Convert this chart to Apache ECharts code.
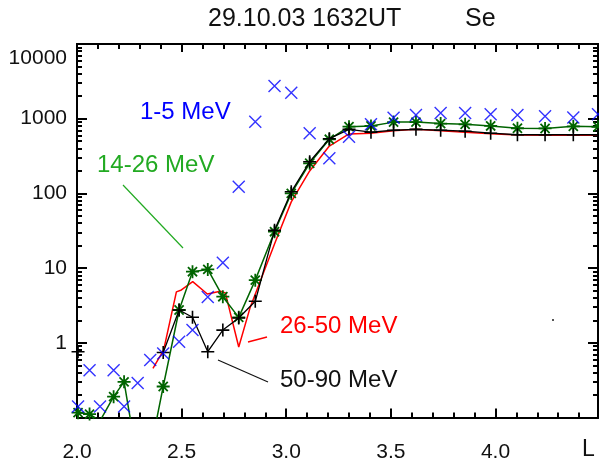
<!DOCTYPE html>
<html><head><meta charset="utf-8">
<script src="https://cdn.jsdelivr.net/npm/echarts@6/dist/echarts.min.js"></script>
<style>html,body{margin:0;padding:0;background:#fff}
#wrap{position:relative;width:599px;height:465px}
#axes,#plot{position:absolute;left:0;top:0;width:599px;height:465px}
#plot{pointer-events:none}</style>
</head><body><div id="wrap"><div id="axes"></div><div id="plot"></div></div>
<script>
// L values shared by 1-5, 14-26 and 50-90 MeV channels
const L = [2.005, 2.06, 2.11, 2.175, 2.225, 2.29, 2.35, 2.412, 2.488, 2.552, 2.625, 2.697, 2.773, 2.852, 2.944, 3.024, 3.112, 3.206, 3.30, 3.405, 3.513, 3.62, 3.738, 3.855, 3.977, 4.105, 4.237, 4.372, 4.49];
const blue1_5 = [0.14, 0.43, 0.14, 0.43, 0.14, 0.29, 0.59, 0.72, 1.03, 1.48, 4.1, 11.8, 123, 912, 2740, 2230, 637, 295, 575, 840, 1030, 1120, 1190, 1190, 1150, 1120, 1080, 1040, 1150];
const green14_26 = [0.116, 0.111, 0.09, 0.19, 0.30, 0.025, 0.035, 0.26, 2.75, 8.95, 9.6, 4.14, 2.19, 6.9, 30.7, 100, 253, 530, 782, 800, 900, 900, 860, 840, 800, 745, 740, 790, 780];
const black50_90 = [0.76, null, null, null, null, null, null, 0.74, 2.75, 2.2, 0.76, 1.48, 2.15, 3.6, 32, 105, 265, 540, 720, 660, 700, 720, 700, 680, 640, 610, 610, 610, 610];
// 26-50 MeV channel
const redL = [2.363, 2.414, 2.475, 2.499, 2.553, 2.623, 2.685, 2.709, 2.773, 2.828, 2.944, 3.024, 3.112, 3.206, 3.30, 3.405, 3.513, 3.62, 3.738, 3.855, 3.977, 4.105, 4.237, 4.372, 4.49];
const red26_50 = [0.455, 0.80, 4.8, 5.1, 6.6, 4.5, 4.9, 4.65, 0.88, 3.0, 21, 77, 200, 430, 625, 640, 690, 720, 690, 660, 630, 605, 600, 600, 600];

// axis ticks and tick labels
const xMajor = [2.0, 2.5, 3.0, 3.5, 4.0];
const xMinor = [2.1, 2.2, 2.3, 2.4, 2.6, 2.7, 2.8, 2.9, 3.1, 3.2, 3.3, 3.4, 3.6, 3.7, 3.8, 3.9, 4.1, 4.2, 4.3, 4.4];
const yLabelText = ['1', '10', '100', '1000', '10000'];
// log10 positions of the y labels (the top label sits a little below the frame, as in the original)
const yLabelPos = [0, 1, 2, 3, 3.812];
const yMinorPos = [];
[-1, 0, 1, 2, 3].forEach(d => [2, 3, 4, 5, 6, 7, 8, 9].forEach(m => yMinorPos.push(d + Math.log10(m))));

const FONT = 'Liberation Sans';
const GRID = {left: 77, top: 44, width: 521, height: 373.5};
const starPath = 'path://M5,0L5,10M0,5L10,5M1.5,1.5L8.5,8.5M8.5,1.5L1.5,8.5';
const plusPath = 'path://M5,0L5,10M0,5L10,5';
const xPath = 'path://M0,0L10,10M10,0L0,10';

// ---------- layer 1: frame, ticks and tick labels ----------
function xAx(pos, ticks, len, w) {
  return {
    type: 'value', min: 2.0, max: 4.49, position: pos,
    axisLine: {show: true, onZero: false, lineStyle: {color: 'black', width: 2}},
    axisTick: {show: true, inside: true, length: len, customValues: ticks, lineStyle: {color: 'black', width: w}},
    axisLabel: {show: false},
    splitLine: {show: false}
  };
}
function yMinorAx(pos) {
  return {
    type: 'value', min: -1, max: 4, position: pos,
    axisLine: {show: false, onZero: false},
    axisTick: {show: true, inside: true, length: 5, customValues: yMinorPos, lineStyle: {color: 'black', width: 2}},
    axisLabel: {show: false}, splitLine: {show: false}
  };
}
function yLogAx(pos) {
  return {
    type: 'log', min: 0.1, max: 10000, position: pos,
    axisLine: {show: true, onZero: false, lineStyle: {color: 'black', width: 2}},
    axisTick: {show: true, inside: true, length: 10, lineStyle: {color: 'black', width: 2}},
    axisLabel: {show: false}, splitLine: {show: false}
  };
}
const axesChart = echarts.init(document.getElementById('axes'));
axesChart.setOption({
  animation: false,
  grid: GRID,
  xAxis: [
    xAx('bottom', xMajor, 9, 2),
    xAx('bottom', xMinor, 5, 2),
    xAx('top', xMajor, 8, 2),
    xAx('top', xMinor, 5, 2),
    {type: 'value', min: 2.0, max: 4.49, position: 'bottom',
     axisLine: {show: false, onZero: false}, axisTick: {show: false}, splitLine: {show: false},
     axisLabel: {show: true, customValues: xMajor, formatter: v => Number(v).toFixed(1),
                 fontSize: 21, fontFamily: FONT, color: '#111', margin: 24}}
  ],
  yAxis: [
    yLogAx('left'),
    yMinorAx('left'),
    yLogAx('right'),
    yMinorAx('right'),
    {type: 'value', min: -1, max: 4, position: 'left',
     axisLine: {show: false, onZero: false}, axisTick: {show: false}, splitLine: {show: false},
     axisLabel: {show: true, customValues: yLabelPos,
                 formatter: v => { const i = yLabelPos.indexOf(Number(v)); return i >= 0 ? yLabelText[i] : ''; },
                 fontSize: 21, fontFamily: FONT, color: '#111', margin: 10}}
  ],
  series: [{type: 'line', data: [], xAxisIndex: 0, yAxisIndex: 0}]
});

// ---------- layer 2: data, title and annotations ----------
const plotChart = echarts.init(document.getElementById('plot'));
plotChart.setOption({
  animation: false,
  backgroundColor: 'transparent',
  title: [
    {text: '29.10.03 1632UT', left: 208, top: 7, padding: 0, textStyle: {fontSize: 25, fontWeight: 'normal', color: '#111', fontFamily: FONT}},
    {text: 'Se', left: 465, top: 7, padding: 0, textStyle: {fontSize: 25, fontWeight: 'normal', color: '#111', fontFamily: FONT}}
  ],
  grid: GRID,
  xAxis: {type: 'value', min: 2.0, max: 4.49, show: false},
  yAxis: {type: 'log', min: 0.1, max: 10000, show: false},
  series: [
    {type: 'line', silent: true, z: 2,
     data: redL.map((x, i) => [x, red26_50[i]]), symbol: 'none',
     lineStyle: {color: '#ff0000', width: 1.5}},
    {type: 'line', silent: true, z: 3, showAllSymbol: true,
     data: L.map((x, i) => [x, green14_26[i]]), symbol: starPath, symbolSize: 13,
     itemStyle: {color: 'rgba(0,0,0,0)', borderColor: '#006400', borderWidth: 1.8},
     lineStyle: {color: '#006400', width: 1.5}},
    {type: 'line', silent: true, z: 4, showAllSymbol: true, connectNulls: false,
     data: L.map((x, i) => [x, black50_90[i]]), symbol: plusPath, symbolSize: 13,
     itemStyle: {color: 'rgba(0,0,0,0)', borderColor: '#000', borderWidth: 1.6},
     lineStyle: {color: '#000', width: 1.3}},
    {type: 'scatter', silent: true, z: 5,
     data: L.map((x, i) => [x, blue1_5[i]]), symbol: xPath, symbolSize: 12,
     itemStyle: {color: 'rgba(0,0,0,0)', borderColor: '#0000ff', borderWidth: 1.4}}
  ],
  graphic: [
    {type: 'text', left: 140, top: 100, style: {text: '1-5 MeV', fill: '#0000ff', font: '24px "Liberation Sans"'}},
    {type: 'text', left: 97, top: 153, style: {text: '14-26 MeV', fill: '#22aa22', font: '24px "Liberation Sans"'}},
    {type: 'text', left: 280, top: 314, style: {text: '26-50 MeV', fill: '#ff0000', font: '24px "Liberation Sans"'}},
    {type: 'text', left: 280, top: 368, style: {text: '50-90 MeV', fill: '#111', font: '24px "Liberation Sans"'}},
    {type: 'text', left: 582, top: 438, style: {text: 'L', fill: '#111', font: '23px "Liberation Sans"'}},
    {type: 'line', shape: {x1: 123, y1: 185, x2: 183, y2: 248}, style: {stroke: '#22aa22', lineWidth: 1.2}},
    {type: 'line', shape: {x1: 248, y1: 342, x2: 267, y2: 337}, style: {stroke: '#ff0000', lineWidth: 1.3}},
    {type: 'line', shape: {x1: 218, y1: 360, x2: 268, y2: 382}, style: {stroke: '#111', lineWidth: 1.2}},
    {type: 'rect', shape: {x: 552, y: 319, width: 2, height: 2}, style: {fill: '#555'}}
  ]
});
</script></body></html>
